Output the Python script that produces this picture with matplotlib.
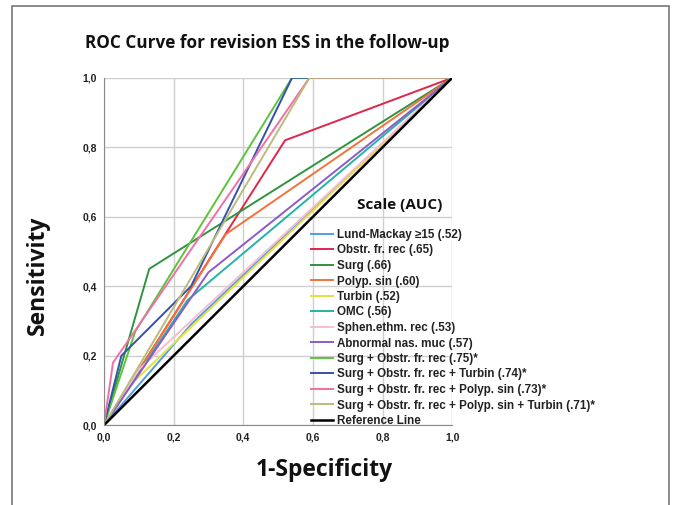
import matplotlib
matplotlib.use('Agg')
import matplotlib.pyplot as plt
from matplotlib.patches import Rectangle

# curve labels (legend order) and colours
labels = [
    "Lund-Mackay \u226515 (.52)",
    "Obstr. fr. rec (.65)",
    "Surg (.66)",
    "Polyp. sin (.60)",
    "Turbin (.52)",
    "OMC (.56)",
    "Sphen.ethm. rec (.53)",
    "Abnormal nas. muc (.57)",
    "Surg + Obstr. fr. rec (.75)*",
    "Surg + Obstr. fr. rec + Turbin (.74)*",
    "Surg + Obstr. fr. rec + Polyp. sin (.73)*",
    "Surg + Obstr. fr. rec + Polyp. sin + Turbin (.71)*",
]
colors = ['#4f9fe0', '#e0264a', '#2f9440', '#f2733a', '#e6df3c', '#22b4a6',
          '#f8bcd6', '#8d5bc6', '#5cc43c', '#3451b0', '#f070a6', '#bdbb7c']

# ROC points (1-specificity, sensitivity)
fpr = [
    [0, 0.25, 1],
    [0, 0.52, 1],
    [0, 0.13, 1],
    [0, 0.35, 1],
    [0, 0.08, 1],
    [0, 0.24, 1],
    [0, 0.10, 1],
    [0, 0.30, 1],
    [0, 0.09, 0.54, 1],
    [0, 0.05, 0.25, 0.54, 0.59, 1],
    [0, 0.026, 0.59, 1],
    [0, 0.59, 1],
]
tpr = [
    [0, 0.29, 1],
    [0, 0.82, 1],
    [0, 0.45, 1],
    [0, 0.55, 1],
    [0, 0.12, 1],
    [0, 0.36, 1],
    [0, 0.16, 1],
    [0, 0.44, 1],
    [0, 0.27, 1.0, 1],
    [0, 0.20, 0.40, 1.0, 1.0, 1],
    [0, 0.18, 1.0, 1],
    [0, 1.0, 1],
]
ref_x = [0, 1]
ref_y = [0, 1]
ticks = [0.0, 0.2, 0.4, 0.6, 0.8, 1.0]
tick_labels = ['0,0', '0,2', '0,4', '0,6', '0,8', '1,0']

fig = plt.figure(figsize=(6.75, 5.05), dpi=100)
ax = fig.add_axes([0.154, 0.158, 0.516, 0.688])

# outer frame of the figure
fig.patches.append(Rectangle((12 / 675, -0.02), (669 - 12) / 675, 1.02 - 6 / 505,
                             transform=fig.transFigure, fill=False,
                             edgecolor='#777777', linewidth=1.2))

for i in range(len(labels)):
    ax.plot(fpr[i], tpr[i], color=colors[i], lw=1.4, label=labels[i])
ax.plot(ref_x, ref_y, color='black', lw=1.8, label='Reference Line')

ax.set_xlim(0, 1)
ax.set_ylim(0, 1)
ax.set_xticks(ticks)
ax.set_yticks(ticks)
ax.set_xticklabels(tick_labels)
ax.set_yticklabels(tick_labels)
ax.grid(True, color='#cfcfcf', lw=1.0)
ax.set_axisbelow(True)
for s in ['top', 'right']:
    ax.spines[s].set_visible(False)
for s in ['left', 'bottom']:
    ax.spines[s].set_color('#8a8a8a')
ax.tick_params(length=0, pad=5)
for t in ax.get_xticklabels() + ax.get_yticklabels():
    t.set_fontfamily(['Liberation Sans', 'DejaVu Sans'])
    t.set_fontweight('bold')
    t.set_fontsize(7.5)
    t.set_color('#222222')

fig.text(267 / 675, 0.915, 'ROC Curve for revision ESS in the follow-up',
         ha='center', va='center', fontsize=12.3, fontweight='bold',
         family='Open Sans', color='#111111')
fig.text(0.056, 0.455, 'Sensitivity', rotation=90, ha='center', va='center',
         fontsize=16.5, fontweight='bold', family='Open Sans', color='#111111')
fig.text(324 / 675, 0.069, '1-Specificity', ha='center', va='center',
         fontsize=16.5, fontweight='bold', family='Open Sans', color='#111111')

fig.text(400 / 675, 1 - 205 / 505, 'Scale (AUC)', ha='center', va='center',
         fontsize=11, fontweight='bold', family='Open Sans', color='#111111')

leg = ax.legend(loc='upper left', bbox_to_anchor=(311 / 675, 1 - 229 / 505),
                bbox_transform=fig.transFigure, frameon=False,
                prop={'family': ['Liberation Sans', 'DejaVu Sans'],
                      'weight': 'bold', 'size': 8.4},
                handlelength=1.9, handletextpad=0.3, labelspacing=0.3,
                borderpad=0, borderaxespad=0)
for t in leg.get_texts():
    t.set_color('#222222')

fig.savefig('out.png', dpi=100)
